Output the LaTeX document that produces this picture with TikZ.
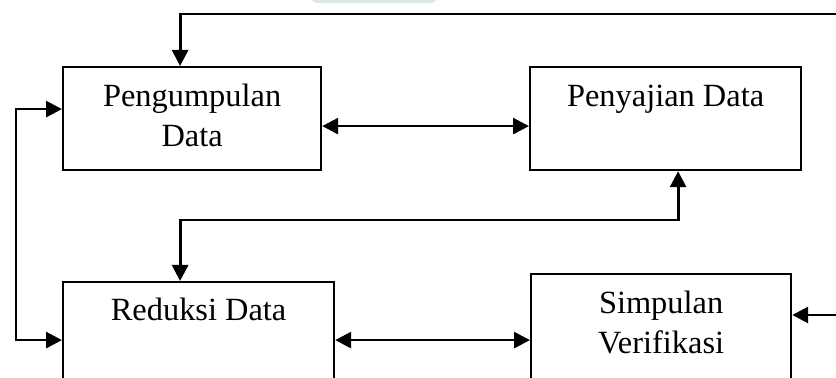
\documentclass[tikz,border=0pt]{standalone}
\usepackage{fontspec}
\setmainfont{Liberation Serif}
\usetikzlibrary{arrows.meta}
\definecolor{wmark}{RGB}{218,232,224}
\tikzset{
  box/.style={draw,line width=1.1pt,inner sep=0pt,anchor=north west},
  boxtext/.style={inner sep=0pt,align=center,font=\fontsize{16.2}{20.3}\selectfont},
  oneway/.style={line width=1.4pt,-{Triangle[length=8pt,width=8pt]}},
  twoway/.style={line width=1.4pt,{Triangle[length=8pt,width=8pt]}-{Triangle[length=8pt,width=8pt]}}
}
\begin{document}
\begin{tikzpicture}[x=0.5pt,y=-0.5pt]
        \useasboundingbox (0,0) rectangle (836,378);
        \clip (0,0) rectangle (836,378);
        \fill[wmark,rounded corners=4pt] (310,-20) rectangle (438,3);

        \node[box,minimum width=129pt,minimum height=51.5pt] (pengumpulan) at (62,66) {};
        \node[box,minimum width=135.5pt,minimum height=51.5pt] (penyajian) at (529,66) {};
        \node[box,minimum width=135.5pt,minimum height=58pt] (reduksi) at (62,281) {};
        \node[box,minimum width=130pt,minimum height=70pt] (simpulan) at (530,273) {};

        \node[boxtext,anchor=base] (pengumpulantext) at ([yshift=-40.5pt]pengumpulan.north) {Pengumpulan\\Data};
        \node[boxtext,anchor=base] (penyajiantext) at ([yshift=-20.5pt]penyajian.north) {Penyajian Data};
        \node[boxtext,anchor=base] (reduksitext) at ([yshift=-20pt]reduksi.north) {Reduksi Data};
        \node[boxtext,anchor=base] (simpulantext) at ([yshift=-40.5pt]simpulan.north) {Simpulan\\Verifikasi};

        \coordinate (topright) at (850,14);
        \coordinate (leftbend) at (16,200);
        \coordinate (midbend) at (400,220);
        \coordinate (rightend) at (850,315);

        \draw[oneway] (topright) -| ([xshift=-6pt]pengumpulan.north);
        \draw[twoway] ([yshift=4.75pt]pengumpulan.west) -| (leftbend) |- (reduksi.west);
        \draw[twoway] ([yshift=-3.75pt]pengumpulan.east) -- ([yshift=-3.75pt]penyajian.west);
        \draw[twoway] ([xshift=6.25pt]penyajian.south) |- (midbend) -| ([xshift=-9.25pt]reduksi.north);
        \draw[twoway] (reduksi.east) -- (simpulan.west |- reduksi.east);
        \draw[oneway] (rightend) -- (simpulan.east |- rightend);
\end{tikzpicture}
\end{document}
